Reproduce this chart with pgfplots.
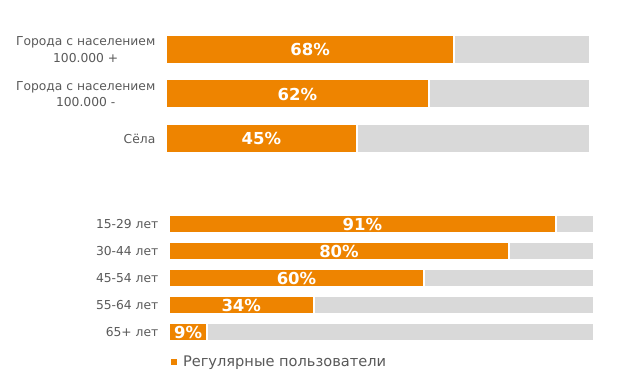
\documentclass[border=0pt]{standalone}
\usepackage{pgfplots}
\pgfplotsset{compat=1.18}
\usepackage{fontspec}
\setmainfont{DejaVu Sans}
\definecolor{org}{RGB}{238,132,0}
\definecolor{lgray}{RGB}{217,217,217}
\definecolor{txt}{RGB}{89,89,89}
\begin{document}
\begin{tikzpicture}
\path[use as bounding box] (0pt,0pt) rectangle (621pt,383pt);
\pgfplotsset{
  mybase/.style={
    xbar, scale only axis, clip=false,
    axis line style={draw=none}, major tick length=0pt,
    xmin=0, xmax=100, xtick=\empty,
    y dir=reverse,
    yticklabel style={align=center, font=\fontsize{12.3}{16.5}\selectfont, text=txt, inner sep=0pt, xshift=-10.5pt},
  },
}
% ---------- top group ----------
\begin{axis}[mybase,
  at={(166pt,355.75pt)}, anchor=north west,
  width=424pt, height=133.5pt,
  ymin=-0.5, ymax=2.5,
  ytick={0,1,2},
  yticklabels={{Города с населением\\100.000 +},{Города с населением\\100.000 -},{Сёла}},
]
\addplot[fill=lgray, draw=white, line width=2pt, bar width=29pt, bar shift=0pt]
  coordinates {(100,0) (100,1) (100,2)};
\addplot[fill=org, draw=white, line width=2pt, bar width=29pt, bar shift=0pt,
  visualization depends on={x \as \rawx},
  point meta=x,
  nodes near coords={\pgfmathprintnumber[assume math mode=true]{\pgfplotspointmeta}\%},
  every node near coord/.append style={anchor=center, xshift={-2.12pt*\rawx}, draw=none, text=white, font=\bfseries\fontsize{16.5}{16.5}\selectfont}]
  coordinates {(68,0) (62,1) (45,2)};
\end{axis}
% ---------- bottom group ----------
\begin{axis}[mybase,
  at={(169pt,172.5pt)}, anchor=north west,
  width=425pt, height=135pt,
  ymin=-0.5, ymax=4.5,
  ytick={0,1,2,3,4},
  yticklabels={15-29 лет,30-44 лет,45-54 лет,55-64 лет,65+ лет},
  legend style={draw=none, fill=none, at={(0,-0.122)}, anchor=west, font=\fontsize{14.6}{15}\selectfont, text=txt, inner sep=0pt, outer sep=0pt, nodes={inner sep=0pt}},
  legend cell align=left,
  legend image code/.code={\fill[org, draw=none] (2pt,-3pt) rectangle (7.5pt,3pt); \path[draw=none, fill=none] (0pt,0pt) -- (14pt,0pt);},
]
\addplot[fill=lgray, draw=white, line width=2pt, bar width=18pt, bar shift=0pt, forget plot]
  coordinates {(100,0) (100,1) (100,2) (100,3) (100,4)};
\addplot[fill=org, draw=white, line width=2pt, bar width=18pt, bar shift=0pt,
  visualization depends on={x \as \rawx},
  point meta=x,
  nodes near coords={\pgfmathprintnumber[assume math mode=true]{\pgfplotspointmeta}\%},
  every node near coord/.append style={anchor=center, xshift={-2.125pt*\rawx}, draw=none, text=white, font=\bfseries\fontsize{16.5}{16.5}\selectfont}]
  coordinates {(91,0) (80,1) (60,2) (34,3) (9,4)};
\addlegendentry{Регулярные пользователи}
\end{axis}
\end{tikzpicture}
\end{document}
